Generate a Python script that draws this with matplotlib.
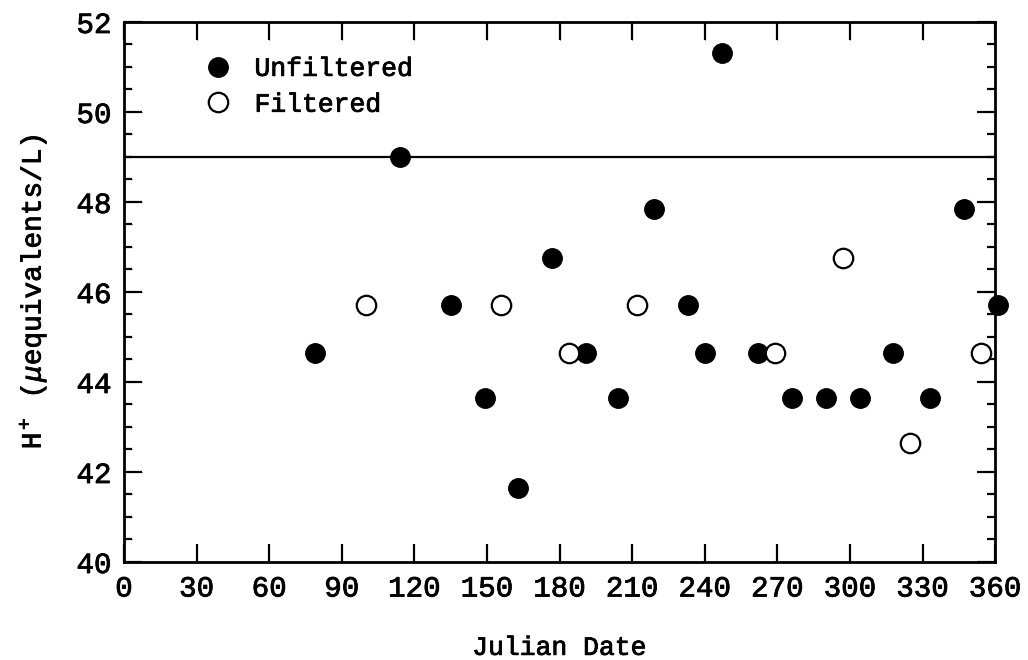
import matplotlib
matplotlib.use("Agg")
import matplotlib.pyplot as plt
import matplotlib.patheffects as pe
from matplotlib.ticker import MultipleLocator

plt.rcParams['font.family'] = ['Liberation Mono', 'DejaVu Sans Mono']
plt.rcParams['mathtext.fontset'] = 'custom'
plt.rcParams['mathtext.rm'] = 'Liberation Mono'
plt.rcParams['mathtext.it'] = 'Liberation Mono:italic'
# deixa o texto um pouco mais grosso, como no original
plt.rcParams['path.effects'] = [pe.withStroke(linewidth=0.6, foreground="black")]

# dados
dias_nao_filtrado = [79, 114, 135, 149, 163, 177, 191, 204, 219, 233, 240, 247,
                     262, 276, 290, 304, 318, 333, 347, 361]
h_nao_filtrado = [44.65, 49.0, 45.7, 43.65, 41.65, 46.75, 44.65, 43.65, 47.85, 45.7, 44.65, 51.3,
                  44.65, 43.65, 43.65, 43.65, 44.65, 43.65, 47.85, 45.7]

dias_filtrado = [100, 156, 184, 212, 269, 297, 325, 354]
h_filtrado = [45.7, 45.7, 44.65, 45.7, 44.65, 46.75, 42.65, 44.65]

limite = 49.0

fig = plt.figure(figsize=(10.28, 6.6), dpi=100)
ax = fig.add_axes([0.1206, 0.1485, 0.8474, 0.8182])

ax.axhline(limite, color="black", linewidth=1.6, zorder=1, path_effects=[])

ax.plot(dias_nao_filtrado, h_nao_filtrado, linestyle="none", marker="o",
        markersize=14, markerfacecolor="black", markeredgecolor="black",
        label="Unfiltered", clip_on=False, zorder=3, path_effects=[])
ax.plot(dias_filtrado, h_filtrado, linestyle="none", marker="o",
        markersize=14, markerfacecolor="white", markeredgecolor="black",
        markeredgewidth=1.6, label="Filtered", clip_on=False, zorder=3, path_effects=[])

ax.set_xlim(0, 360)
ax.set_ylim(40, 52)
ax.xaxis.set_major_locator(MultipleLocator(30))
ax.yaxis.set_major_locator(MultipleLocator(2))
ax.yaxis.set_minor_locator(MultipleLocator(0.5))

ax.tick_params(which="both", direction="in", top=True, right=True, width=1.6)
ax.tick_params(which="major", length=13, labelsize=21, pad=9)
ax.tick_params(which="minor", length=6)
for s in ax.spines.values():
    s.set_linewidth(2)

ax.set_xlabel("Julian Date", fontsize=19, labelpad=24)
ax.set_ylabel(r"H$^+$ ($\mu$equivalents/L)", fontsize=20, labelpad=20)

ax.legend(loc="upper left", bbox_to_anchor=(0.065, 0.955), frameon=False,
          fontsize=19, handletextpad=0.4, labelspacing=0.45, borderaxespad=0)

fig.savefig("out.png", dpi=100)
